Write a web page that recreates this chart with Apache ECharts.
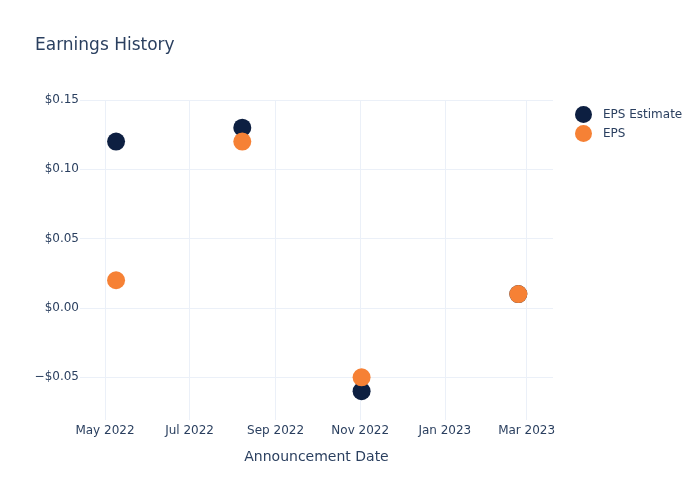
<!DOCTYPE html>
<html>
<head>
<meta charset="utf-8">
<script src="https://cdn.jsdelivr.net/npm/echarts@6/dist/echarts.min.js"></script>
<style>html,body{margin:0;padding:0;background:#fff}#c{width:700px;height:500px}</style>
</head>
<body>
<div id="c"></div>
<script>
var dates = ['2022-05-09', '2022-08-08', '2022-11-02', '2023-02-23'];
var epsEstimate = [0.12, 0.13, -0.06, 0.01];
var eps = [0.02, 0.12, -0.05, 0.01];
var xTicks = ['2022-05-01', '2022-07-01', '2022-09-01', '2022-11-01', '2023-01-01', '2023-03-01'];
var yTicks = [-0.05, 0, 0.05, 0.10, 0.15];
var monthNames = ['Jan','Feb','Mar','Apr','May','Jun','Jul','Aug','Sep','Oct','Nov','Dec'];

function ts(s) { var p = s.split('-'); return new Date(+p[0], +p[1] - 1, +p[2]).getTime(); }
var txt = '#2a3f5f';
var font = 'DejaVu Sans, Verdana, sans-serif';

var chart = echarts.init(document.getElementById('c'));
chart.setOption({
  animation: false,
  textStyle: { fontFamily: font },
  title: {
    text: 'Earnings History', left: 35, top: 37, padding: 0,
    textStyle: { fontSize: 17, fontWeight: 'normal', color: txt, fontFamily: font }
  },
  legend: {
    orient: 'vertical', left: 575, top: 106, padding: 0,
    icon: 'circle', itemWidth: 17, itemHeight: 17, itemGap: 2,
    textStyle: { fontSize: 12, color: txt, fontFamily: font, padding: [0, 0, 0, 6] },
    data: ['EPS Estimate', 'EPS']
  },
  grid: { left: 80, right: 147, top: 100, bottom: 80, containLabel: false },
  xAxis: {
    type: 'value',
    min: ts('2022-04-13'), max: ts('2023-03-20'),
    name: 'Announcement Date', nameLocation: 'middle', nameGap: 30,
    nameTextStyle: { fontSize: 14, color: txt, fontFamily: font },
    axisLine: { show: false },
    axisTick: { show: false, customValues: xTicks.map(ts) },
    axisLabel: {
      customValues: xTicks.map(ts), margin: 5, fontSize: 12, color: txt, fontFamily: font,
      formatter: function (v) { var d = new Date(v); return monthNames[d.getMonth()] + ' ' + d.getFullYear(); }
    },
    splitLine: { show: true, lineStyle: { color: '#ebf0f8', width: 1 } }
  },
  yAxis: {
    type: 'value', min: -0.0808, max: 0.15,
    axisLine: { show: false },
    axisTick: { show: false, customValues: yTicks },
    axisLabel: {
      customValues: yTicks, margin: 1, fontSize: 12, color: txt, fontFamily: font,
      formatter: function (v) { return (v < -1e-9 ? '\u2212$' : '$') + Math.abs(v).toFixed(2); }
    },
    splitLine: { show: true, lineStyle: { color: '#ebf0f8', width: 1 } }
  },
  series: [
    {
      name: 'EPS Estimate', type: 'scatter', symbolSize: 18,
      itemStyle: { color: '#0d1f41', opacity: 1 },
      data: dates.map(function (d, i) { return [ts(d), epsEstimate[i]]; })
    },
    {
      name: 'EPS', type: 'scatter', symbolSize: 18,
      itemStyle: { color: '#f68135', opacity: 1 },
      data: dates.map(function (d, i) { return [ts(d), eps[i]]; })
    }
  ]
});
</script>
</body>
</html>
